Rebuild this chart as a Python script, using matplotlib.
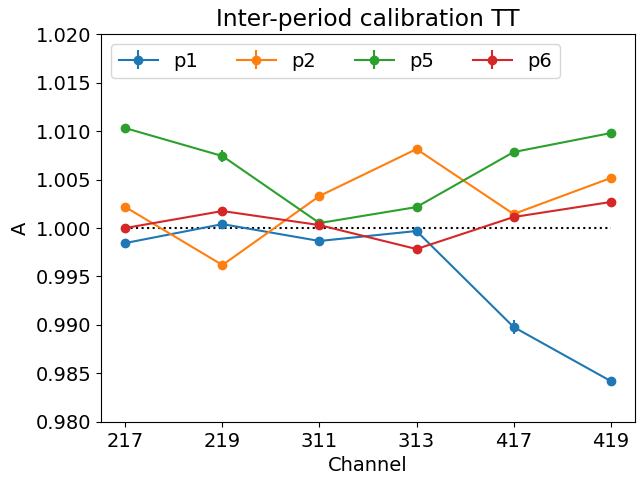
import numpy as np
import matplotlib
matplotlib.use("Agg")
import matplotlib.pyplot as plt

plt.rcParams['font.size'] = 14

# channels and calibration values
channels = ['217', '219', '311', '313', '417', '419']
p1 = [0.99845, 1.0004, 0.99866, 0.99969, 0.98979, 0.98422]
p2 = [1.00216, 0.99618, 1.0033, 1.00814, 1.00144, 1.00515]
p5 = [1.0103, 1.00742, 1.00051, 1.00216, 1.00783, 1.00979]
p6 = [1.0000, 1.00175, 1.0003, 0.99783, 1.00113, 1.00268]
p1_err = [0.0002, 0.0002, 0.0002, 0.0002, 0.0007, 0.0004]
p2_err = [0.0002, 0.0002, 0.0002, 0.0002, 0.0002, 0.0002]
p5_err = [0.0002, 0.0006, 0.0002, 0.0002, 0.0002, 0.0002]
p6_err = [0.0002, 0.0002, 0.0002, 0.0002, 0.0002, 0.0002]

x = np.arange(len(channels))

fig, ax = plt.subplots(figsize=(6.4, 4.8), dpi=100)
ax.errorbar(x, p1, yerr=p1_err, marker='o', label='p1')
ax.errorbar(x, p2, yerr=p2_err, marker='o', label='p2')
ax.errorbar(x, p5, yerr=p5_err, marker='o', label='p5')
ax.errorbar(x, p6, yerr=p6_err, marker='o', label='p6')
ax.plot([x[0], x[-1]], [1, 1], 'k:')

ax.set_xticks(x)
ax.set_xticklabels(channels)
ax.set_ylim(0.98, 1.02)
ax.set_yticks(np.arange(0.98, 1.0201, 0.005))
ax.yaxis.set_major_formatter(matplotlib.ticker.FormatStrFormatter('%.3f'))
ax.set_xlabel('Channel')
ax.set_ylabel('A')
ax.set_title('Inter-period calibration TT')
ax.legend(ncol=4, loc='upper left')
fig.subplots_adjust(left=0.158, right=0.992, top=0.929, bottom=0.121)
plt.savefig('out.png')
